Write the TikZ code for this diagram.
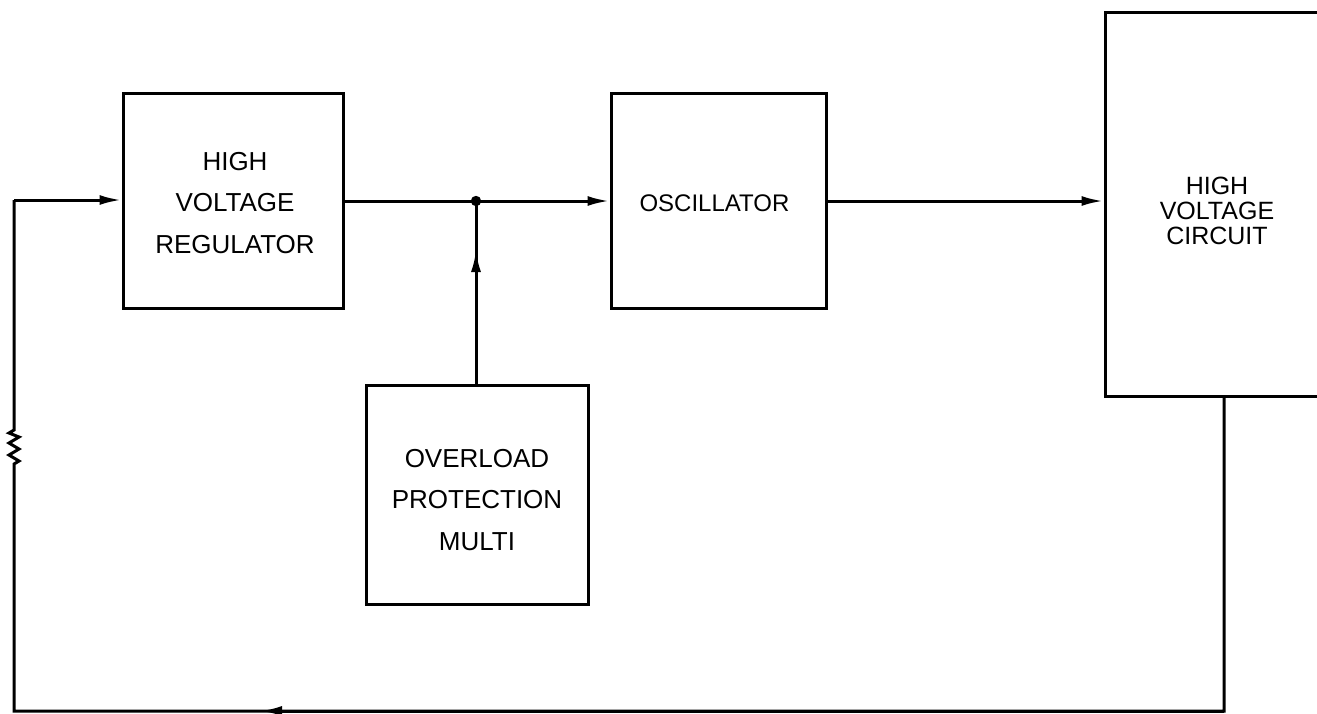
\documentclass[tikz,border=0pt]{standalone}
\usepackage{fontspec}
\setmainfont{Liberation Sans}
\usetikzlibrary{arrows.meta}
\begin{document}
\begin{tikzpicture}[x=0.5pt,y=-0.5pt,
  line width=1.5pt,
  blk/.style={draw,line width=1.5pt,inner sep=0pt},
  lbl/.style={font=\fontsize{13pt}{20.7pt}\selectfont,align=center,inner sep=0pt},
  smalllbl/.style={font=\fontsize{12.5pt}{12.5pt}\selectfont,align=center,inner sep=0pt},
  arr/.style={-{Latex[length=11pt,width=5pt]}}]
\useasboundingbox (0,0) rectangle (1317,713);
\clip (0,0) rectangle (1317,713);
% boxes
\node[blk,minimum width=110pt,minimum height=107.5pt] (reg) at (233,200.5) {};
\node[lbl] at (235,203) {HIGH\\VOLTAGE\\REGULATOR};
\node[blk,minimum width=107.5pt,minimum height=107.5pt] (osc) at (718.5,200.5) {};
\node[lbl,font=\fontsize{12pt}{14pt}\selectfont,anchor=west] at (638,203) {OSCILLATOR};
\node[blk,minimum width=111pt,minimum height=109.5pt] (ovl) at (477,494.5) {};
\node[lbl] at (477,500) {OVERLOAD\\PROTECTION\\MULTI};
\node[blk,minimum width=120pt,minimum height=192pt] (hvc) at (1225,204) {};
\node[smalllbl] at (1217,211) {HIGH\\VOLTAGE\\CIRCUIT};
% junction
\coordinate (j) at (476,201);
\fill (j) circle (2.6pt);
% connectors
\draw (reg.east |- j) -- (j);
\draw[arr] (j) -- (osc.west |- j);
\draw (ovl.north -| j) -- (j);
\draw[arr] (ovl.north -| j) -- (476,250);
\draw[arr] (osc.east |- j) -- (hvc.west |- j);
% feedback loop
\coordinate (hb) at (1224,396);
\coordinate (br) at (1224,711);
\coordinate (bl) at (14,711);
\coordinate (tl) at (14,200);
\coordinate (r1) at (14,430);
\coordinate (r2) at (14,464);
\draw (hb) -- (br) -- (bl) -- (r2)
  -- (19,461) -- (9,455) -- (19,449) -- (9,443) -- (19,437) -- (9,433) -- (r1)
  -- (tl);
\draw[arr] (br) -- (260,711);
\draw[arr] (tl) -- (reg.west |- tl);
\end{tikzpicture}
\end{document}
